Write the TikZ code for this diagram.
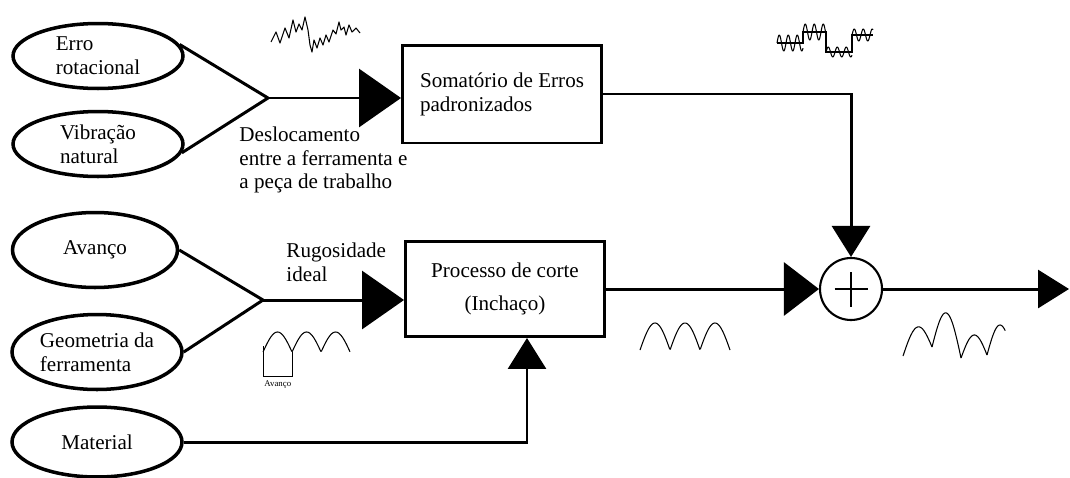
\documentclass[tikz,border=0pt]{standalone}
\usepackage{fontspec}
\setmainfont{Liberation Serif}
\usetikzlibrary{arrows.meta, shapes.geometric}

\begin{document}
\begin{tikzpicture}[
    x=0.02cm, y=-0.02cm,
    text=black,
    font=\fontsize{12}{13.6}\selectfont,
    line width=1.7pt,
    factor/.style={ellipse, draw=black, line width=2pt, inner sep=0pt, minimum width=3.4cm, minimum height=1.3cm},
    block/.style={draw=black, line width=1.7pt, inner sep=0pt, minimum width=3.98cm, minimum height=1.96cm},
    summer/.style={circle, draw=black, line width=1.2pt, minimum size=1.24cm, inner sep=0pt},
    bigarrow/.style={-{Triangle[length=0.84cm, width=1.16cm]}},
    midarrow/.style={-{Triangle[length=0.7cm, width=1.06cm]}},
    smallarrow/.style={-{Triangle[length=0.62cm, width=0.76cm]}},
    sketch/.style={line width=0.6pt, line join=round},
    note/.style={align=left, anchor=north west, inner sep=0pt}
]

\useasboundingbox (0,0) rectangle (1070,477);

% ==================== INPUTS ====================
\node[factor, align=left] (erro) at (98,56) {Erro\\rotacional};
\node[factor, align=left] (vibra) at (98,144) {Vibração\\natural};
\node[factor, minimum width=3.3cm, minimum height=1.5cm] (avanco) at (95,250) {Avanço};
\node[factor, align=left, minimum height=1.5cm] (geom) at (97,352) {Geometria da\\ferramenta};
\node[factor, minimum height=1.4cm] (mat) at (97,442) {Material};

% ==================== BLOCKS ====================
\node[block, align=left] (soma) at (502,94) {Somatório de Erros\\padronizados};
\node[block, align=center, minimum height=1.9cm] (proc) at (505,289) {Processo de corte\\[5pt](Inchaço)};
\node[summer] (sum) at (851,289) {};
\draw[line width=1.4pt] ([xshift=-0.33cm]sum.center) -- ([xshift=0.33cm]sum.center);
\draw[line width=1.4pt] ([yshift=-0.35cm]sum.center) -- ([yshift=0.35cm]sum.center);

% junctions and free end
\coordinate (j1) at (268,98);
\coordinate (j2) at (263,300);
\coordinate (out) at (1069,289);

% ==================== CONNECTORS ====================
\draw (erro.8) -- (j1);
\draw (vibra.-6) -- (j1);
\draw[bigarrow] (j1) -- (soma.west |- j1);

\draw (avanco.east) -- (j2);
\draw (geom.east) -- (j2);
\draw[bigarrow] (j2) -- (proc.west |- j2);

\draw[smallarrow] (mat.east) -| ([xshift=0.44cm]proc.south);
\draw[smallarrow] (soma.east) -| (sum.north);
\draw[midarrow] (proc.east) -- (sum.west);
\draw[smallarrow] (sum.east) -- (out);

% ==================== LABELS ====================
\node[note] (desloc) at (238,125) {Deslocamento\\entre a ferramenta e\\a peça de trabalho};
\node[note] (rugos) at (285,241) {Rugosidade\\ideal};
\node[note, font=\fontsize{5}{6}\selectfont] (avlbl) at (263,379) {Avanço};

% ==================== SIGNAL SKETCHES ====================
% noisy displacement
\draw[sketch] plot coordinates {(271,42) (276,32) (280,43) (285,28) (289,38) (293,20) (296,32) (299,24) (302,30) (305,17) (308,30) (310,45) (312,52) (314,40) (317,48) (320,38) (323,45) (326,35) (329,42) (333,30) (336,34) (339,22) (341,30) (344,27) (346,35) (349,25) (352,32) (356,28) (360,33)};

% stepped error sum
\draw[line width=1.3pt] (777,43) -- (803,43) -- (803,32) -- (826,32) -- (826,52) -- (852,52) -- (852,35) -- (873,35);
\draw[sketch] plot[domain=777:803, samples=50] (\x, {43-8*sin(40*(\x-777))});
\draw[sketch] plot[domain=803:826, samples=50] (\x, {32-8*sin(40*(\x-803))});
\draw[sketch] plot[domain=826:852, samples=50] (\x, {52-5*sin(40*(\x-826))});
\draw[sketch] plot[domain=852:873, samples=50] (\x, {35-6*sin(40*(\x-852))});

% ideal roughness
\draw[sketch] plot[domain=0:87, samples=120] ({263+\x}, {352-20*abs(sin(6.2*\x))});
\draw[line width=0.5pt] (263,346) -- (263,376) -- (292,376) -- (292,352);

% cut profile
\draw[sketch] plot[domain=0:90, samples=120] ({640+\x}, {350-27*abs(sin(6*\x))});

% resulting profile
\draw[sketch] plot[domain=0:1, samples=40] ({903+29*\x}, {356-9*\x-24.5*sin(180*\x)});
\draw[sketch] plot[domain=0:1, samples=40] ({932+29*\x}, {347+11*\x-39.5*sin(180*\x)});
\draw[sketch] plot[domain=0:1, samples=40] ({961+26*\x}, {358-3*\x-21.5*sin(180*\x)});
\draw[sketch] plot[domain=0:0.7, samples=30] ({987+26*\x}, {355-30*sin(180*\x)});

\end{tikzpicture}
\end{document}
